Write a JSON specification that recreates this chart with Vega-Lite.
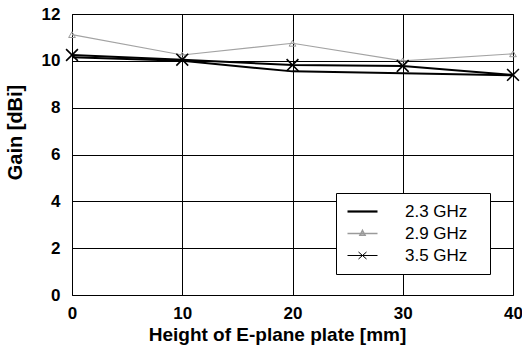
{
  "$schema": "https://vega.github.io/schema/vega-lite/v6.json",
  "width": 441,
  "height": 281,
  "autosize": "none",
  "padding": {"left": 72, "top": 14, "right": 9, "bottom": 53},
  "background": "white",
  "config": {
    "font": "Liberation Sans",
    "view": {"stroke": "black", "strokeWidth": 1}
  },
  "data": {
    "values": [
      {"h": 0, "gain": 10.15, "series": "2.3 GHz"},
      {"h": 10, "gain": 10.0, "series": "2.3 GHz"},
      {"h": 20, "gain": 9.55, "series": "2.3 GHz"},
      {"h": 30, "gain": 9.47, "series": "2.3 GHz"},
      {"h": 40, "gain": 9.38, "series": "2.3 GHz"},
      {"h": 0, "gain": 11.12, "series": "2.9 GHz"},
      {"h": 10, "gain": 10.25, "series": "2.9 GHz"},
      {"h": 20, "gain": 10.75, "series": "2.9 GHz"},
      {"h": 30, "gain": 10.0, "series": "2.9 GHz"},
      {"h": 40, "gain": 10.3, "series": "2.9 GHz"},
      {"h": 0, "gain": 10.25, "series": "3.5 GHz"},
      {"h": 10, "gain": 10.05, "series": "3.5 GHz"},
      {"h": 20, "gain": 9.82, "series": "3.5 GHz"},
      {"h": 30, "gain": 9.78, "series": "3.5 GHz"},
      {"h": 40, "gain": 9.4, "series": "3.5 GHz"}
    ]
  },
  "encoding": {
    "x": {
      "field": "h",
      "type": "quantitative",
      "scale": {"domain": [0, 40], "nice": false},
      "axis": {
        "values": [0, 10, 20, 30, 40],
        "title": "Height of E-plane plate [mm]",
        "titleFont": "Liberation Sans",
        "titleFontSize": 19,
        "titleFontWeight": "bold",
        "titleColor": "black",
        "titleX": 205,
        "titleY": 45,
        "titleBaseline": "alphabetic",
        "labelFont": "Liberation Sans",
        "labelFontSize": 17,
        "labelFontWeight": "bold",
        "labelColor": "black",
        "labelPadding": 10,
        "labelFlush": false,
        "ticks": false,
        "domain": false,
        "grid": true,
        "gridColor": "black",
        "gridOpacity": 1,
        "gridWidth": 1
      }
    },
    "y": {
      "field": "gain",
      "type": "quantitative",
      "scale": {"domain": [0, 12], "nice": false},
      "axis": {
        "values": [0, 2, 4, 6, 8, 10, 12],
        "title": "Gain [dBi]",
        "titleFont": "Liberation Sans",
        "titleFontSize": 20,
        "titleFontWeight": "bold",
        "titleColor": "black",
        "titleX": -51,
        "titleY": 118,
        "titleAngle": -90,
        "titleAlign": "center",
        "titleBaseline": "alphabetic",
        "labelFont": "Liberation Sans",
        "labelFontSize": 17,
        "labelFontWeight": "bold",
        "labelColor": "black",
        "labelPadding": 12,
        "labelFlush": false,
        "ticks": false,
        "domain": false,
        "grid": true,
        "gridColor": "black",
        "gridOpacity": 1,
        "gridWidth": 1
      }
    }
  },
  "layer": [
    {
      "transform": [{"filter": "datum.series === '2.9 GHz'"}],
      "mark": {"type": "line", "color": "#a3a3a3", "strokeWidth": 1.2},
      "encoding": {}
    },
    {
      "transform": [{"filter": "datum.series !== '2.9 GHz'"}],
      "mark": {"type": "line", "color": "black", "strokeWidth": 2},
      "encoding": {"detail": {"field": "series"}}
    },
    {
      "transform": [{"filter": "datum.series === '2.9 GHz'"}],
      "mark": {"type": "point", "shape": "triangle-up", "filled": false, "size": 45, "stroke": "#9a9a9a", "strokeWidth": 1, "opacity": 1},
      "encoding": {}
    },
    {
      "transform": [{"filter": "datum.series === '3.5 GHz'"}],
      "mark": {"type": "point", "shape": "M-1,-1L1,1M-1,1L1,-1", "filled": false, "size": 140, "stroke": "black", "strokeWidth": 1.6, "opacity": 1},
      "encoding": {}
    },
    {
      "transform": [{"filter": "datum.gain > 100"}],
      "mark": {"type": "point", "filled": false, "size": 196, "opacity": 1},
      "encoding": {
        "shape": {
          "field": "series",
          "type": "nominal",
          "scale": {
            "domain": ["2.3 GHz", "2.9 GHz", "3.5 GHz"],
            "range": [
              "M-3,0H3",
              "M-3,0H3M0,-0.6L0.5,0.35L-0.5,0.35Z",
              "M-3,0H3M-0.8,-0.7L0.8,0.7M-0.8,0.7L0.8,-0.7"
            ]
          },
          "legend": {
            "orient": "none",
            "legendX": 264,
            "legendY": 179,
            "title": null,
            "fillColor": "white",
            "strokeColor": "black",
            "padding": 10,
            "rowPadding": 4,
            "symbolOffset": 8,
            "labelOffset": 34,
            "labelFont": "Liberation Sans",
            "labelFontSize": 17,
            "labelColor": "black",
            "labelExpr": "datum.label + '\u2800'"
          }
        },
        "stroke": {
          "field": "series",
          "type": "nominal",
          "scale": {"domain": ["2.3 GHz", "2.9 GHz", "3.5 GHz"], "range": ["black", "#9a9a9a", "black"]}
        },
        "strokeWidth": {
          "field": "series",
          "type": "nominal",
          "scale": {"domain": ["2.3 GHz", "2.9 GHz", "3.5 GHz"], "range": [2.2, 1, 2]}
        }
      }
    }
  ]
}
